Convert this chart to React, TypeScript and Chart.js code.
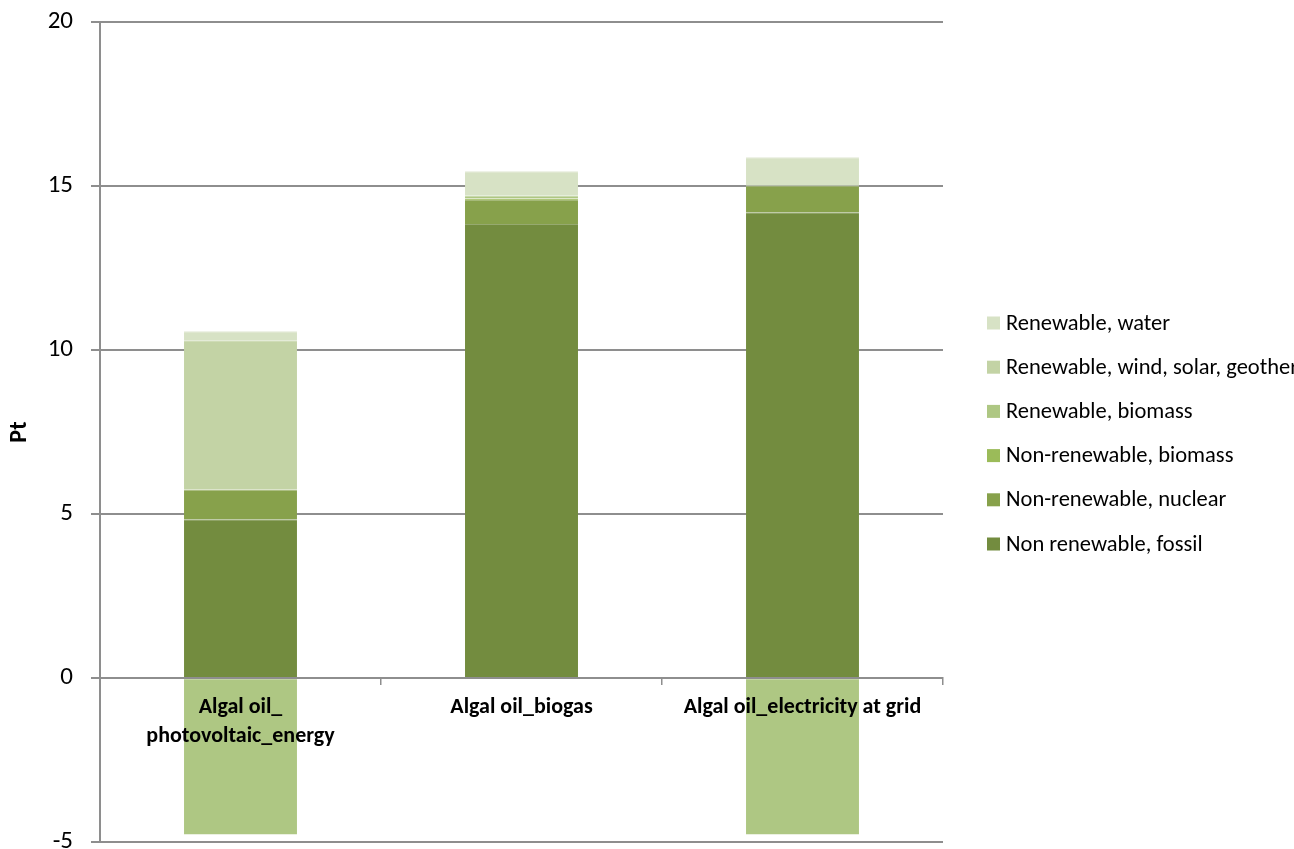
import React, { useEffect, useRef } from "react";
import { Chart, registerables } from "chart.js";

Chart.register(...registerables);

// Scenario names on the x axis
const categories: (string | string[])[] = [
  ["Algal oil_", "photovoltaic_energy"],
  "Algal oil_biogas",
  "Algal oil_electricity at grid",
];

// Cumulative energy demand per source (Pt)
const fossil = [4.84, 13.84, 14.2];
const nuclear = [0.91, 0.73, 0.81];
const nonRenewableBiomass = [0, 0.05, 0];
const renewableBiomass = [-4.77, 0.08, -4.77];
const windSolarGeo = [4.55, 0, 0];
const water = [0.27, 0.75, 0.87];

const seriesLabels = [
  "Non renewable, fossil",
  "Non-renewable, nuclear",
  "Non-renewable, biomass",
  "Renewable, biomass",
  "Renewable, wind, solar, geothermal",
  "Renewable, water",
];
const seriesColors = ["#738C3F", "#87A14B", "#9BBB59", "#AEC783", "#C3D3A5", "#D7E2C5"];

const yTicks = { min: -5, max: 20, step: 5 };

const FONT = "Carlito, Lato, 'Open Sans', sans-serif";
const GRID = "#8E8E8E";

// Slightly lighter edge between stacked segments
function lighten(hex: string, amt: number) {
  const n = parseInt(hex.slice(1), 16);
  const ch = [(n >> 16) & 255, (n >> 8) & 255, n & 255].map((c) => Math.round(c + (255 - c) * amt));
  return `rgb(${ch[0]},${ch[1]},${ch[2]})`;
}

// Legend drawn to the right of the plot, top entry = last dataset
const sideLegend = {
  id: "sideLegend",
  afterDraw(chart: any) {
    const { ctx } = chart;
    const ds = chart.data.datasets;
    const x0 = 987;
    const yStart = 323;
    const gap = 44.2;
    ctx.save();
    ctx.font = `22.5px ${FONT}`;
    ctx.textBaseline = "middle";
    ctx.textAlign = "left";
    for (let i = ds.length - 1, row = 0; i >= 0; i--, row++) {
      const y = yStart + row * gap;
      ctx.fillStyle = ds[i].backgroundColor;
      ctx.fillRect(x0, y - 6.5, 13, 13);
      ctx.fillStyle = "#000";
      ctx.fillText(ds[i].label, x0 + 19, y + 1);
    }
    ctx.restore();
  },
};

export default function App() {
  const ref = useRef<HTMLCanvasElement | null>(null);

  useEffect(() => {
    if (!ref.current) return;
    const seriesData = [fossil, nuclear, nonRenewableBiomass, renewableBiomass, windSolarGeo, water];
    const chart = new Chart(ref.current, {
      type: "bar",
      data: {
        labels: categories,
        datasets: seriesData.map((d, i) => ({
          label: seriesLabels[i],
          data: d,
          backgroundColor: seriesColors[i],
          borderColor: lighten(seriesColors[i], 0.25),
          borderWidth: { top: 1, bottom: 0, left: 0, right: 0 },
          borderSkipped: false,
          categoryPercentage: 1,
          barPercentage: 0.402,
        })),
      },
      plugins: [sideLegend],
      options: {
        animation: false,
        responsive: true,
        maintainAspectRatio: false,
        layout: { padding: { left: 0, top: 22, right: 351, bottom: 7 } },
        plugins: {
          legend: { display: false },
          tooltip: { enabled: false },
        },
        scales: {
          x: {
            stacked: true,
            position: { y: 0 } as any,
            grid: {
              display: true,
              offset: true,
              drawOnChartArea: false,
              drawTicks: true,
              tickLength: 6,
              color: GRID,
              lineWidth: 1.5,
            },
            border: { display: true, color: GRID, width: 2, z: 1 },
            ticks: {
              z: 1,
              color: "#000",
              padding: 9,
              maxRotation: 0,
              autoSkip: false,
              font: { family: FONT, size: 22, weight: "bold", lineHeight: "29px" },
            },
            afterFit(scale: any) {
              scale.paddingLeft = 0;
              scale.paddingRight = 0;
            },
          },
          y: {
            stacked: true,
            min: yTicks.min,
            max: yTicks.max,
            ticks: {
              stepSize: yTicks.step,
              color: "#000",
              padding: 18,
              font: { family: FONT, size: 25 },
            },
            grid: { color: GRID, lineWidth: 2, tickLength: 9 },
            border: { display: true, color: GRID, width: 2 },
            title: {
              display: true,
              text: "Pt",
              color: "#000",
              padding: { top: 6, bottom: 0 },
              font: { family: FONT, size: 24, weight: "bold" },
            },
            afterFit(scale: any) {
              scale.width = 100;
              scale.paddingTop = 0;
              scale.paddingBottom = 0;
            },
          },
        },
      },
    });
    return () => chart.destroy();
  }, []);

  return (
    <div style={{ position: "fixed", left: 0, top: 0, width: 1294, height: 849, background: "#fff" }}>
      <canvas ref={ref} />
    </div>
  );
}
